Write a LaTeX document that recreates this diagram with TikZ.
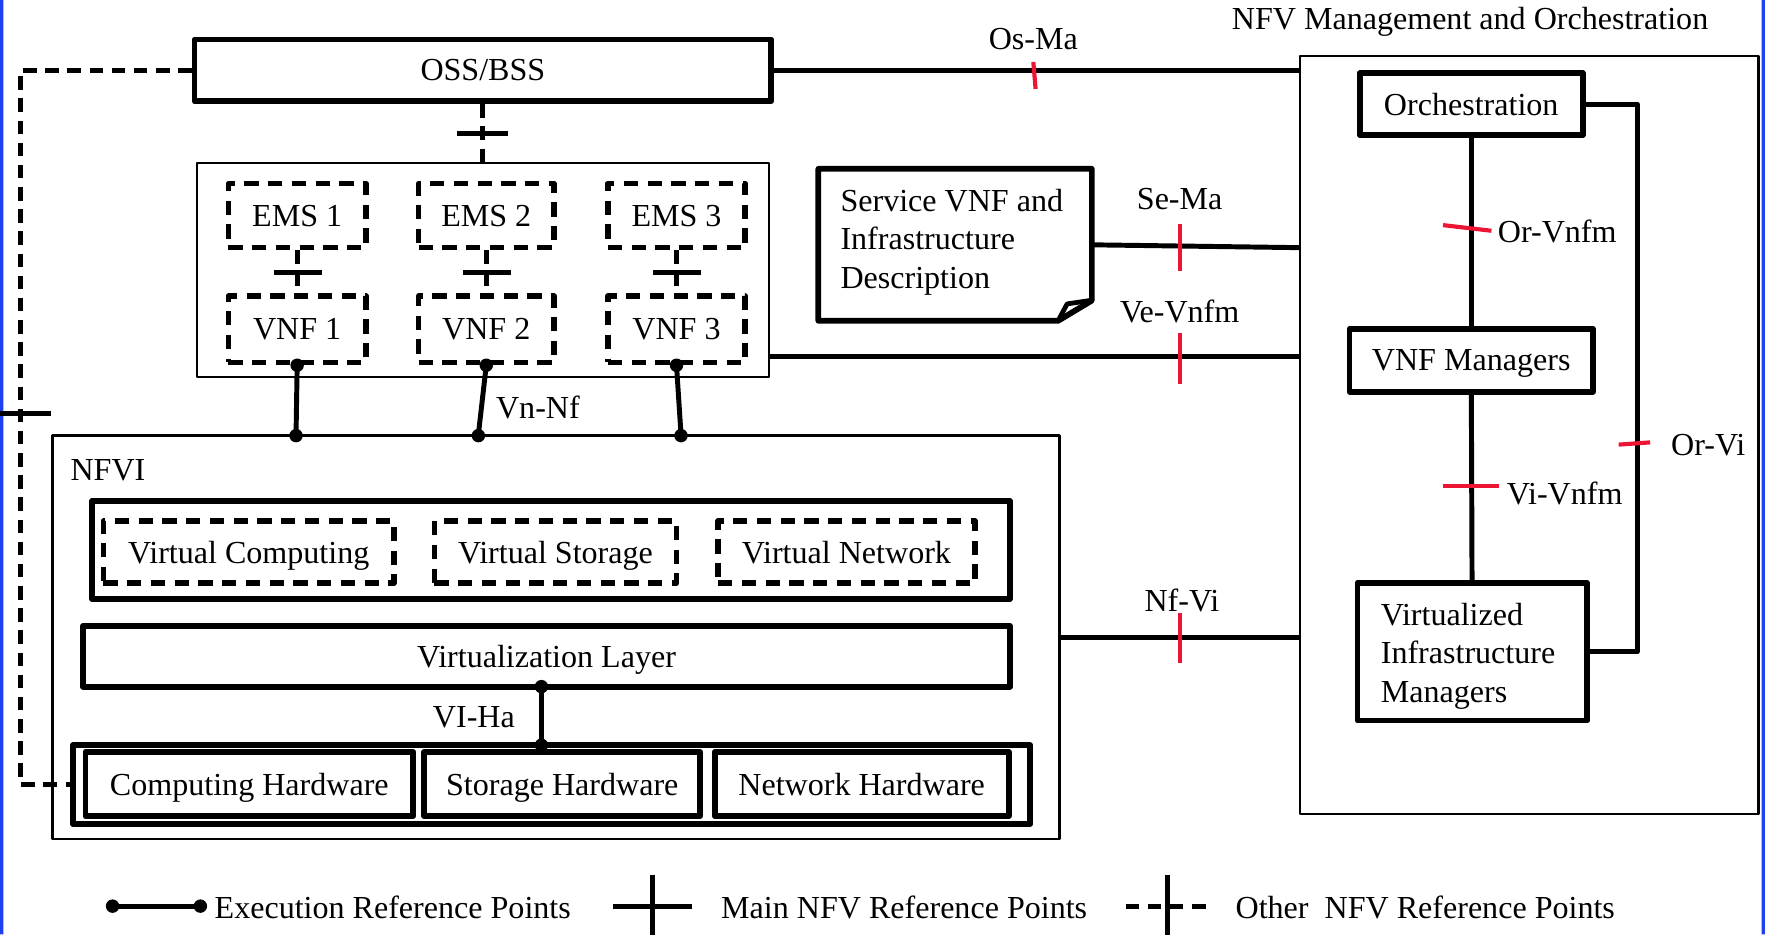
\documentclass[tikz,border=0pt]{standalone}
\usepackage{fontspec}
\setmainfont{Liberation Serif}
\usetikzlibrary{calc}
\definecolor{tickred}{RGB}{236,22,52}
\definecolor{edgeblue}{RGB}{30,64,240}
\begin{document}
\begin{tikzpicture}[x=0.01cm,y=-0.01cm,line join=round,font=\fontsize{8.1}{9.7}\selectfont,
	thickbox/.style={draw,line width=1.45pt,inner sep=0pt,text depth=0pt},
	thinbox/.style={draw,line width=0.6pt,inner sep=0pt},
	dashbox/.style={draw,line width=1.4pt,dash pattern=on 3.6pt off 2.4pt,inner sep=0pt,text depth=0pt},
	conn/.style={line width=1.25pt},
	dashconn/.style={line width=1.25pt,dash pattern=on 3.4pt off 2.2pt},
	redtick/.style={tickred,line width=1.05pt},
	lbl/.style={inner sep=0pt,anchor=west}]
	\useasboundingbox (0,0) rectangle (1568,830);
	\fill[edgeblue] (0,0) rectangle (3,830) (1565,0) rectangle (1568,830);
	% OSS/BSS and element managers
	\node[thickbox,minimum width=5.12cm,minimum height=0.55cm] (oss) at (429,62.5) {OSS/BSS};
	\node[thinbox,minimum width=5.08cm,minimum height=1.90cm] (emsbox) at (429,240) {};
	\node[dashbox,minimum width=1.22cm,minimum height=0.57cm] (ems1) at (264,191.5) {EMS 1};
	\node[dashbox,minimum width=1.20cm,minimum height=0.57cm] (ems2) at (432,191.5) {EMS 2};
	\node[dashbox,minimum width=1.22cm,minimum height=0.57cm] (ems3) at (601,191.5) {EMS 3};
	\node[dashbox,minimum width=1.22cm,minimum height=0.59cm] (vnf1) at (264,292.5) {VNF 1};
	\node[dashbox,minimum width=1.20cm,minimum height=0.59cm] (vnf2) at (432,292.5) {VNF 2};
	\node[dashbox,minimum width=1.22cm,minimum height=0.59cm] (vnf3) at (601,292.5) {VNF 3};
	% NFVI
	\node[thinbox,minimum width=8.94cm,minimum height=3.58cm] (nfvi) at (494,566) {};
	\node[lbl] (nfvilbl) at (62,418) {NFVI};
	\node[thickbox,minimum width=8.15cm,minimum height=0.87cm] (virtbox) at (489.5,488.5) {};
	\node[dashbox,minimum width=2.58cm,minimum height=0.55cm] (vcomp) at (221,490.5) {Virtual Computing};
	\node[dashbox,minimum width=2.15cm,minimum height=0.55cm] (vstor) at (493.5,490.5) {Virtual Storage};
	\node[dashbox,minimum width=2.28cm,minimum height=0.55cm] (vnet) at (752,490.5) {Virtual Network};
	\node[thickbox,minimum width=8.23cm,minimum height=0.54cm] (vlayer) at (485.5,583) {Virtualization Layer};
	\node[thickbox,minimum width=8.50cm,minimum height=0.70cm] (hw) at (490,697) {};
	\node[thickbox,minimum width=2.91cm,minimum height=0.57cm] (chw) at (221.5,696.5) {Computing Hardware};
	\node[thickbox,minimum width=2.45cm,minimum height=0.57cm] (shw) at (499.5,696.5) {Storage Hardware};
	\node[thickbox,minimum width=2.61cm,minimum height=0.57cm] (nhw) at (765.5,696.5) {Network Hardware};
	% MANO
	\node[thinbox,minimum width=4.07cm,minimum height=6.73cm] (mano) at (1358.5,386.5) {};
	\node (manolbl) at (1306,19) {NFV Management and Orchestration};
	\node[thickbox,minimum width=1.98cm,minimum height=0.55cm] (orch) at (1307,92.5) {Orchestration};
	\node[thickbox,minimum width=2.16cm,minimum height=0.56cm] (vnfm) at (1307,320) {VNF Managers};
	\node[thickbox,minimum width=2.04cm,minimum height=1.22cm] (vim) at (1308,579) {};
	\node[lbl,align=left] (vimtxt) at (1226,583) {Virtualized\\Infrastructure\\Managers};
	% descriptor document
	\draw[line width=1.45pt] (727,150) -- (970,150) -- (970,267) -- (940,285) -- (727,285) -- cycle;
	\draw[line width=1.2pt] (940,285) -- (948,270) -- (968,267);
	\node[minimum width=2.43cm,minimum height=1.35cm] (doc) at (848.5,217.5) {};
	\node[lbl,align=left] (doctxt) at (746,215) {Service VNF and\\Infrastructure\\Description};
	% main reference points
	\draw[conn] (oss.east) -- (mano.west |- oss.east);
	\draw[redtick] (918,55) -- (920,79);
	\node (osma) at (918,35) {Os-Ma};
	\draw[conn] (doc.east) -- (mano.west |- 0,220);
	\draw[redtick] (1048,199) -- (1048,241);
	\node (sema) at (1048,177) {Se-Ma};
	\draw[conn] (emsbox.east |- 0,317) -- (mano.west |- 0,317);
	\draw[redtick] (1048,296) -- (1048,341);
	\node (vevnfm) at (1048,277) {Ve-Vnfm};
	\draw[conn] (nfvi.east |- 0,566) -- (mano.west |- 0,566);
	\draw[redtick] (1048,545) -- (1048,589);
	\node (nfvi-ref) at (1050,533) {Nf-Vi};
	\draw[conn] (orch) -- (vnfm);
	\draw[redtick] (1282,200) -- (1325,205);
	\node[lbl] (orvnfm) at (1330,206) {Or-Vnfm};
	\draw[conn] (vnfm) -- (vim);
	\draw[redtick] (1282,432) -- (1332,432);
	\node[lbl] (vivnfm) at (1338,438) {Vi-Vnfm};
	\draw[conn] (orch.east) -- ++(46,0) |- (vim.east);
	\draw[redtick] (1438,395) -- (1466,393);
	\node[lbl] (orvi) at (1484,395) {Or-Vi};
	% other reference points
	\draw[dashconn] (oss.west) -| (18,400) |- (hw.west);
	\draw[conn] (0,367) -- (45,367);
	\draw[dashconn] (oss) -- (emsbox);
	\draw[conn] (406,119) -- (451,119);
	\foreach \i in {1,2,3}{
		\draw[dashconn] (ems\i) -- (vnf\i);
		\draw[conn] ($(ems\i)!0.5!(vnf\i)+(-21,0)$) -- ++(43,0);
	}
	% execution reference points
	\draw[conn] (vnf1.south) -- (263,0 |- nfvi.north);
	\draw[conn] (vnf2.south) -- (425,0 |- nfvi.north);
	\draw[conn] (vnf3.south) -- (605,0 |- nfvi.north);
	\foreach \x in {263,425,605} \fill (\x,387) circle (1.7pt);
	\foreach \i in {1,2,3} \fill (vnf\i.south) circle (1.7pt);
	\node[lbl] (vnnf) at (440,362) {Vn-Nf};
	\draw[conn] (481,0 |- vlayer.south) -- (481,0 |- hw.north);
	\fill (481,610) circle (1.7pt) (481,662) circle (1.7pt);
	\node (viha) at (421,637) {VI-Ha};
	% legend
	\draw[conn] (100,805) -- (178,805);
	\fill (100,805) circle (1.7pt) (178,805) circle (1.7pt);
	\node[lbl] (leg1) at (190,806) {Execution Reference Points};
	\draw[conn] (545,805) -- (615,805) (580,777) -- (580,832);
	\node[lbl] (leg2) at (640,806) {Main NFV Reference Points};
	\draw[dashconn] (1000,805) -- (1075,805);
	\draw[conn] (1037,777) -- (1037,832);
	\node[lbl] (leg3) at (1097,806) {Other\ \ NFV Reference Points};
\end{tikzpicture}
\end{document}
